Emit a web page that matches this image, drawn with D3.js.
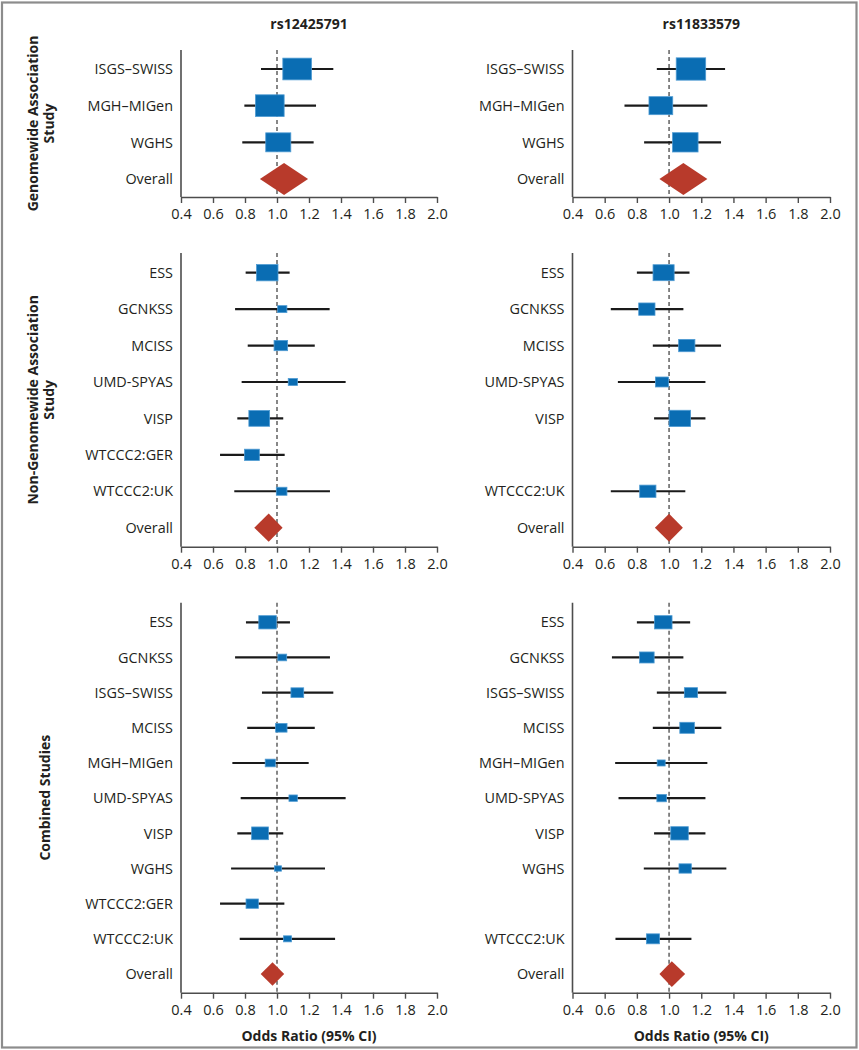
<!DOCTYPE html>
<html>
<head>
<meta charset="utf-8">
<script src="https://cdn.jsdelivr.net/npm/d3@7"></script>
<style>
  html, body { margin: 0; padding: 0; background: #fff; }
  svg { display: block; }
  text { font-family: "Open Sans", "Noto Sans", sans-serif; fill: #231f20; }
</style>
</head>
<body>
<svg id="chart" width="859" height="1050"></svg>
<script>
// ---------- DATA ----------
const snps = ["rs12425791", "rs11833579"];
const xTicks = [0.4, 0.6, 0.8, 1.0, 1.2, 1.4, 1.6, 1.8, 2.0];

const groupTitles = [
  ["Genomewide Association", "Study"],
  ["Non-Genomewide Association", "Study"],
  ["Combined Studies"]
];

const gwasStudies = ["ISGS–SWISS", "MGH–MIGen", "WGHS"];
const nonGwasStudies = ["ESS", "GCNKSS", "MCISS", "UMD-SPYAS", "VISP", "WTCCC2:GER", "WTCCC2:UK"];
const combinedStudies = ["ESS", "GCNKSS", "ISGS–SWISS", "MCISS", "MGH–MIGen", "UMD-SPYAS", "VISP", "WGHS", "WTCCC2:GER", "WTCCC2:UK"];

// rs12425791 — genomewide association studies
const gwasOR_a  = [1.126, 0.955, 1.008];
const gwasLo_a  = [0.900, 0.796, 0.783];
const gwasHi_a  = [1.352, 1.244, 1.229];
const gwasWt_a  = [23.3, 23.3, 17.8];
// rs11833579 — genomewide association studies
const gwasOR_b  = [1.136, 0.949, 1.101];
const gwasLo_b  = [0.924, 0.723, 0.845];
const gwasHi_b  = [1.348, 1.238, 1.323];
const gwasWt_b  = [24.6, 16.0, 18.4];

// rs12425791 — non-genomewide association studies
const nonGwasOR_a = [0.939, 1.033, 1.024, 1.099, 0.889, 0.843, 1.029];
const nonGwasLo_a = [0.804, 0.738, 0.817, 0.779, 0.752, 0.644, 0.733];
const nonGwasHi_a = [1.079, 1.329, 1.236, 1.429, 1.039, 1.048, 1.331];
const nonGwasWt_a = [13.1, 2.4, 5.2, 2.4, 12.2, 6.3, 3.2];
// rs11833579 — non-genomewide association studies (no WTCCC2:GER estimate)
const nonGwasOR_b = [0.966, 0.862, 1.110, 0.956, 1.067, null, 0.868];
const nonGwasLo_b = [0.800, 0.638, 0.899, 0.682, 0.907, null, 0.638];
const nonGwasHi_b = [1.127, 1.089, 1.323, 1.226, 1.226, null, 1.101];
const nonGwasWt_b = [12.6, 7.5, 7.5, 4.9, 13.1, null, 7.5];

// rs12425791 — combined studies
const combOR_a = [0.941, 1.033, 1.127, 1.027, 0.958, 1.101, 0.894, 1.006, 0.845, 1.066];
const combLo_a = [0.806, 0.738, 0.906, 0.814, 0.721, 0.773, 0.752, 0.713, 0.644, 0.767];
const combHi_a = [1.081, 1.331, 1.352, 1.236, 1.198, 1.429, 1.039, 1.300, 1.046, 1.363];
const combWt_a = [8.7, 2.2, 4.6, 3.7, 2.9, 2.0, 8.0, 1.4, 4.3, 1.8];
// rs11833579 — combined studies (no WTCCC2:GER estimate)
const combOR_b = [0.964, 0.862, 1.136, 1.112, 0.951, 0.954, 1.065, 1.100, null, 0.900];
const combLo_b = [0.800, 0.645, 0.924, 0.899, 0.665, 0.686, 0.907, 0.843, null, 0.667];
const combHi_b = [1.131, 1.089, 1.356, 1.325, 1.238, 1.226, 1.226, 1.356, null, 1.139];
const combWt_b = [8.7, 6.0, 4.9, 6.0, 1.8, 2.6, 8.7, 4.3, null, 4.9];

// Overall (pooled) estimates: [gwas, nonGwas, combined]
const overallOR_a = [1.044, 0.948, 0.972];
const overallLo_a = [0.893, 0.858, 0.898];
const overallHi_a = [1.194, 1.035, 1.045];
const overallOR_b = [1.089, 1.000, 1.017];
const overallLo_b = [0.940, 0.912, 0.940];
const overallHi_b = [1.238, 1.086, 1.100];

// ---------- LAYOUT ----------
const svg = d3.select("#chart");
const W = 859, H = 1050;
const BLUE = "#0a6db3", BLUE_EDGE = "#4f9bd3", RED = "#b83a2b", AXIS = "#4d4d4d";

svg.append("rect").attr("x", 2).attr("y", 2.5).attr("width", W - 4.5).attr("height", H - 5)
  .attr("fill", "#fff").attr("stroke", "#8c8c8c").attr("stroke-width", 2.2);

const columns = [
  { x0: 181, x1: 437 },
  { x0: 572.5, x1: 830 }
];
const panels = [
  { studies: gwasStudies, top: 50, first: 69, last: 179, axisY: 197, gx: [33, 49],
    series: [
      { or: gwasOR_a, lo: gwasLo_a, hi: gwasHi_a, wt: gwasWt_a },
      { or: gwasOR_b, lo: gwasLo_b, hi: gwasHi_b, wt: gwasWt_b } ] },
  { studies: nonGwasStudies, top: 253, first: 272.7, last: 527.7, axisY: 546.7, gx: [33, 49],
    series: [
      { or: nonGwasOR_a, lo: nonGwasLo_a, hi: nonGwasHi_a, wt: nonGwasWt_a },
      { or: nonGwasOR_b, lo: nonGwasLo_b, hi: nonGwasHi_b, wt: nonGwasWt_b } ] },
  { studies: combinedStudies, top: 602.7, first: 622.3, last: 974, axisY: 992.7, gx: [45],
    series: [
      { or: combOR_a, lo: combLo_a, hi: combHi_a, wt: combWt_a },
      { or: combOR_b, lo: combLo_b, hi: combHi_b, wt: combWt_b } ] }
];
const overall = [
  { or: overallOR_a, lo: overallLo_a, hi: overallHi_a },
  { or: overallOR_b, lo: overallLo_b, hi: overallHi_b }
];

const boxH = d3.scaleSqrt().domain([0, 100]).range([0, 45]);
const boxRatio = 1.32;

// column titles
snps.forEach((s, ci) => {
  const c = columns[ci];
  svg.append("text").attr("x", (c.x0 + c.x1) / 2).attr("y", 29)
    .attr("text-anchor", "middle").attr("font-weight", "bold").attr("font-size", 14)
    .text(s);
});

panels.forEach((p, pi) => {
  const rows = p.studies.concat(["Overall"]);
  const y = d3.scalePoint().domain(rows).range([p.first, p.last]);

  // group title (rotated)
  const cy = (p.top + p.axisY) / 2;
  groupTitles[pi].forEach((line, li) => {
    svg.append("text")
      .attr("transform", `translate(${p.gx[li]},${cy}) rotate(-90)`)
      .attr("text-anchor", "middle").attr("dy", "0.35em")
      .attr("font-weight", "bold").attr("font-size", 14)
      .text(line);
  });

  columns.forEach((c, ci) => {
    const x = d3.scaleLinear().domain([0.4, 2.0]).range([c.x0, c.x1]);
    const g = svg.append("g");

    // x axis
    const ax = g.append("g").attr("transform", `translate(0,${p.axisY})`)
      .call(d3.axisBottom(x).tickValues(xTicks).tickFormat(d3.format(".1f")).tickSize(6).tickSizeOuter(0));
    ax.select(".domain").attr("stroke", AXIS).attr("stroke-width", 1.6);
    ax.selectAll(".tick line").attr("stroke", AXIS).attr("stroke-width", 1.4);
    ax.selectAll(".tick text").attr("font-family", "'Liberation Sans Narrow', 'Open Sans', sans-serif")
      .attr("font-size", 14.5).attr("fill", "#231f20").attr("dy", "0.9em");

    // y axis line
    g.append("line").attr("x1", c.x0).attr("x2", c.x0).attr("y1", p.top).attr("y2", p.axisY)
      .attr("stroke", AXIS).attr("stroke-width", 1.6);

    // reference line at OR = 1
    g.append("line").attr("x1", x(1)).attr("x2", x(1)).attr("y1", p.top).attr("y2", p.axisY)
      .attr("stroke", "#555").attr("stroke-width", 1.4).attr("stroke-dasharray", "4,3");

    const s = p.series[ci];
    const pts = p.studies.map((name, i) => ({ name, or: s.or[i], lo: s.lo[i], hi: s.hi[i], wt: s.wt[i] }))
      .filter(d => d.or != null);

    // row labels (only rows with an estimate, plus Overall)
    const labels = pts.map(d => d.name).concat(["Overall"]);
    g.selectAll("text.row").data(labels).join("text").attr("class", "row")
      .attr("x", c.x0 - 8).attr("y", d => y(d)).attr("dy", "0.36em")
      .attr("text-anchor", "end").attr("font-size", 14.4).text(d => d);

    // CI lines
    g.selectAll("line.ci").data(pts).join("line").attr("class", "ci")
      .attr("x1", d => x(d.lo)).attr("x2", d => x(d.hi))
      .attr("y1", d => y(d.name)).attr("y2", d => y(d.name))
      .attr("stroke", "#1a1a1a").attr("stroke-width", 2.2);

    // boxes
    g.selectAll("rect.box").data(pts).join("rect").attr("class", "box")
      .attr("x", d => x(d.or) - boxH(d.wt) * boxRatio / 2)
      .attr("y", d => y(d.name) - boxH(d.wt) / 2)
      .attr("width", d => boxH(d.wt) * boxRatio)
      .attr("height", d => boxH(d.wt))
      .attr("fill", BLUE).attr("stroke", BLUE_EDGE).attr("stroke-width", 0.8);

    // overall diamond
    const o = overall[ci];
    const xo = x(o.or[pi]), xl = x(o.lo[pi]), xh = x(o.hi[pi]);
    const dh = Math.max(23, Math.min(32, xh - xl));
    const yo = y("Overall");
    g.append("path")
      .attr("d", `M${xl},${yo} L${xo},${yo - dh / 2} L${xh},${yo} L${xo},${yo + dh / 2} Z`)
      .attr("fill", RED);

    // x-axis title (bottom panel only)
    if (pi === panels.length - 1) {
      g.append("text").attr("x", (c.x0 + c.x1) / 2).attr("y", 1041)
        .attr("text-anchor", "middle").attr("font-weight", "bold").attr("font-size", 14)
        .text("Odds Ratio (95% CI)");
    }
  });
});
</script>
</body>
</html>
